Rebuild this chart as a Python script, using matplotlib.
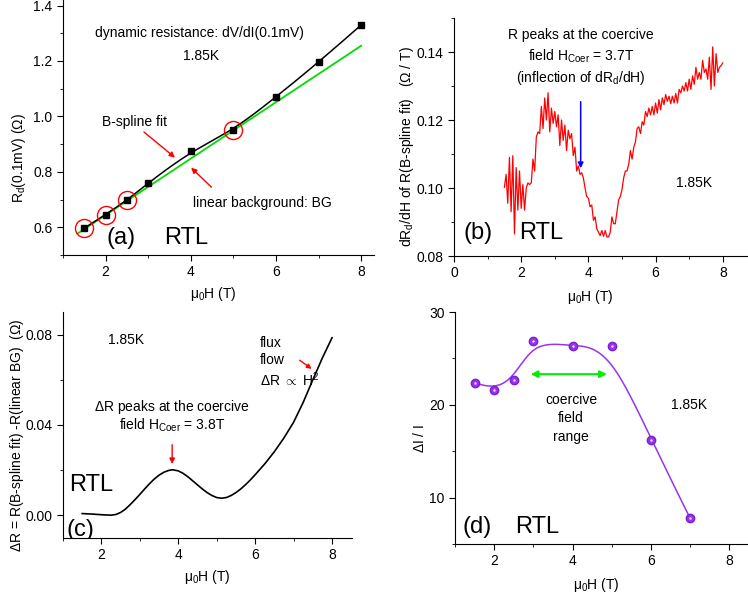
import numpy as np
import matplotlib
matplotlib.use("Agg")
import matplotlib.pyplot as plt
from matplotlib.ticker import MultipleLocator

plt.rcParams['font.family'] = ['Liberation Sans', 'DejaVu Sans']
plt.rcParams['mathtext.fontset'] = 'custom'
plt.rcParams['mathtext.rm'] = 'Liberation Sans'
plt.rcParams['mathtext.it'] = 'Liberation Sans'
plt.rcParams['mathtext.default'] = 'rm'

# ---------------- data ----------------
# (a) dynamic resistance
a_H = [1.5, 2.0, 2.5, 3.0, 4.0, 5.0, 6.0, 7.0, 8.0]
a_R = [0.597, 0.646, 0.697, 0.760, 0.874, 0.950, 1.070, 1.195, 1.330]
a_bg_points = [1.5, 2.0, 2.5, 5.0]            # circled points used for BG
bg_H = [1.35, 8.0]
bg_R = [0.578, 1.255]

# (b) dRd/dH (noisy)
b_dRdH = [
    0.1002, 0.1040, 0.0955, 0.1090, 0.0930, 0.1095, 0.0865, 0.1060, 0.0935, 0.1050,
    0.0940, 0.1010, 0.0935, 0.1000, 0.1015, 0.1010, 0.1015, 0.1085, 0.1050, 0.1150,
    0.1165, 0.1160, 0.1240, 0.1175, 0.1265, 0.1200, 0.1280, 0.1165, 0.1235, 0.1190,
    0.1225, 0.1180, 0.1215, 0.1125, 0.1200, 0.1140, 0.1185, 0.1110, 0.1170, 0.1145,
    0.1160, 0.1095, 0.1120, 0.1050, 0.1065, 0.1040, 0.1045, 0.1030, 0.1000, 0.0975,
    0.0970, 0.0945, 0.0950, 0.0905, 0.0915, 0.0880, 0.0870, 0.0860, 0.0875, 0.0858,
    0.0875, 0.0856, 0.0856, 0.0870, 0.0915, 0.0895, 0.0895, 0.0930, 0.0965, 0.0975,
    0.0995, 0.1030, 0.1050, 0.1050, 0.1070, 0.1110, 0.1085, 0.1120, 0.1135, 0.1175,
    0.1180, 0.1160, 0.1195, 0.1185, 0.1225, 0.1210, 0.1235, 0.1215, 0.1240, 0.1215,
    0.1250, 0.1220, 0.1260, 0.1230, 0.1265, 0.1245, 0.1275, 0.1255, 0.1270, 0.1248,
    0.1270, 0.1250, 0.1278, 0.1250, 0.1290, 0.1280, 0.1300, 0.1285, 0.1310, 0.1285,
    0.1320, 0.1290, 0.1330, 0.1305, 0.1355, 0.1320, 0.1340, 0.1320, 0.1375, 0.1340,
    0.1350, 0.1320, 0.1385, 0.1290, 0.1415, 0.1300, 0.1395, 0.1340, 0.1355, 0.1360,
    0.1368]
b_H = np.linspace(1.5, 8.0, len(b_dRdH))

# (c) Delta R
c_H = [1.5, 1.75, 2.0, 2.25, 2.375, 2.5, 2.625, 2.75, 2.875, 3.0, 3.125, 3.25, 3.375,
       3.5, 3.625, 3.75, 3.85, 4.0, 4.125, 4.25, 4.375, 4.5, 4.625, 4.75, 4.875, 5.0,
       5.125, 5.25, 5.375, 5.5, 5.625, 5.75, 5.875, 6.0, 6.25, 6.5, 6.75, 7.0, 7.25,
       7.5, 7.75, 8.0]
c_dR = [0.0008, 0.0006, 0.0003, 0.0001, 0.0004, 0.0013, 0.0028, 0.0048, 0.0070, 0.0093,
        0.0117, 0.0140, 0.0161, 0.0178, 0.0191, 0.0199, 0.0202, 0.0197, 0.0186, 0.0171,
        0.0153, 0.0135, 0.0117, 0.0101, 0.0088, 0.0079, 0.0076, 0.0079, 0.0088, 0.0101,
        0.0117, 0.0136, 0.0157, 0.0180, 0.0228, 0.0282, 0.0343, 0.0412, 0.0500, 0.0600,
        0.0697, 0.0786]

# (d) Delta I / I
d_H = [1.5, 2.0, 2.5, 3.0, 4.0, 5.0, 6.0, 7.0]
d_I = [22.4, 21.6, 22.7, 26.9, 26.3, 26.3, 16.2, 7.8]


def bspline(px, py, k=3, ns=400):
    """Clamped uniform B-spline with the data as control points (Origin style)."""
    P = np.column_stack([px, py]).astype(float)
    n = len(P)
    knots = np.concatenate([np.zeros(k + 1), np.arange(1, n - k), np.full(k + 1, n - k)]).astype(float)
    t = np.linspace(0, n - k, ns)
    t[-1] -= 1e-9

    def N(i, p):
        if p == 0:
            return ((knots[i] <= t) & (t < knots[i + 1])).astype(float)
        out = np.zeros_like(t)
        d1 = knots[i + p] - knots[i]
        d2 = knots[i + p + 1] - knots[i + 1]
        if d1 > 0:
            out += (t - knots[i]) / d1 * N(i, p - 1)
        if d2 > 0:
            out += (knots[i + p + 1] - t) / d2 * N(i + 1, p - 1)
        return out

    B = np.array([N(i, k) for i in range(n)])
    C = B.T @ P
    return C[:, 0], C[:, 1]


W, H = 748, 605
fig = plt.figure(figsize=(W / 100, H / 100), dpi=100)


def axes_px(l, t, r, b):
    return fig.add_axes([l / W, 1 - b / H, (r - l) / W, (b - t) / H])


def ftext(px, py, s, ha='center', va='center', **kw):
    return fig.text(px / W, 1 - py / H, s, ha=ha, va=va, **kw)


def style(ax):
    for s in ['top', 'right']:
        ax.spines[s].set_visible(False)
    ax.tick_params(which='both', direction='out', labelsize=10)
    ax.tick_params(which='major', length=4)
    ax.tick_params(which='minor', length=2.5)


FS = 10
BIG = 17

# ---------- (a) ----------
axa = axes_px(63, 0, 374, 255)
style(axa)
axa.set_xlim(1, 8.3)
axa.set_ylim(0.5, 1.42)
axa.xaxis.set_major_locator(MultipleLocator(2))
axa.xaxis.set_minor_locator(MultipleLocator(1))
axa.yaxis.set_major_locator(MultipleLocator(0.2))
axa.yaxis.set_minor_locator(MultipleLocator(0.1))
axa.yaxis.set_major_formatter(plt.FuncFormatter(lambda v, p: f"{v:.1f}"))
axa.plot(bg_H, bg_R, color='#00dd00', lw=1.3, zorder=2)
sx, sy = bspline(a_H, a_R)
axa.plot(sx, sy, color='black', lw=1.1, zorder=3)
axa.plot(a_H, a_R, 's', color='black', ms=5, zorder=4)
cx = [h for h in a_H if h in a_bg_points]
cy = [r for h, r in zip(a_H, a_R) if h in a_bg_points]
axa.plot(cx, cy, 'o', mfc='none', mec='red', ms=13, mew=1.0, zorder=5)
axa.annotate('', xy=(3.68, 0.845), xytext=(2.85, 0.95),
             arrowprops=dict(arrowstyle='-|>', color='red', lw=1, mutation_scale=8))
axa.annotate('', xy=(3.96, 0.822), xytext=(4.53, 0.738),
             arrowprops=dict(arrowstyle='-|>', color='red', lw=1, mutation_scale=8))
ftext(199, 33, 'dynamic resistance: dV/dI(0.1mV)', fontsize=FS)
ftext(201, 56, '1.85K', fontsize=FS)
ftext(134, 122, 'B-spline fit', fontsize=FS)
ftext(262, 203, 'linear background: BG', fontsize=FS)
ftext(121, 238, '(a)', fontsize=BIG)
ftext(186, 238, 'RTL', fontsize=BIG)
ftext(19, 158, r'R$_d$(0.1mV) ($\Omega$)', rotation=90, fontsize=FS)
ftext(213, 294, r'$\mu_0$H (T)', fontsize=FS)

# ---------- (b) ----------
axb = axes_px(454, 18, 748, 256)
style(axb)
axb.set_xlim(0, 8.75)
axb.set_ylim(0.08, 0.15)
axb.xaxis.set_major_locator(MultipleLocator(2))
axb.xaxis.set_minor_locator(MultipleLocator(1))
axb.yaxis.set_major_locator(MultipleLocator(0.02))
axb.yaxis.set_minor_locator(MultipleLocator(0.01))
axb.yaxis.set_major_formatter(plt.FuncFormatter(lambda v, p: f"{v:.2f}"))
axb.plot(b_H, b_dRdH, color='red', lw=0.9)
axb.annotate('', xy=(3.77, 0.1050), xytext=(3.77, 0.1262),
             arrowprops=dict(arrowstyle='-|>', color='blue', lw=1.1, mutation_scale=8))
ftext(581, 35, 'R peaks at the coercive', fontsize=FS)
ftext(581, 56, r'field H$_{Coer}$ = 3.7T', fontsize=FS)
ftext(581, 78, r'(inflection of dR$_d$/dH)', fontsize=FS)
ftext(694, 183, '1.85K', fontsize=FS)
ftext(478, 233, '(b)', fontsize=BIG)
ftext(541, 233, 'RTL', fontsize=BIG)
ftext(407, 147, r'dR$_d$/dH of R(B-spline fit)   ($\Omega$ / T)', rotation=90, fontsize=FS)
ftext(590, 297, r'$\mu_0$H (T)', fontsize=FS)

# ---------- (c) ----------
axc = axes_px(63, 312, 352, 538)
style(axc)
axc.set_xlim(1, 8.52)
axc.set_ylim(-0.01, 0.09)
axc.xaxis.set_major_locator(MultipleLocator(2))
axc.xaxis.set_minor_locator(MultipleLocator(1))
axc.yaxis.set_major_locator(MultipleLocator(0.04))
axc.yaxis.set_minor_locator(MultipleLocator(0.02))
axc.yaxis.set_major_formatter(plt.FuncFormatter(lambda v, p: f"{v:.2f}"))
axc.plot(c_H, c_dR, color='black', lw=1.2)
axc.annotate('', xy=(7.53, 0.0641), xytext=(7.10, 0.0694),
             arrowprops=dict(arrowstyle='-|>', color='red', lw=1, mutation_scale=7))
axc.annotate('', xy=(3.84, 0.0215), xytext=(3.84, 0.0325),
             arrowprops=dict(arrowstyle='-|>', color='red', lw=1, mutation_scale=8))
ftext(126, 340, '1.85K', fontsize=FS)
ftext(260, 343, 'flux', ha='left', fontsize=FS)
ftext(260, 360, 'flow', ha='left', fontsize=FS)
ftext(260, 380, r'$\Delta$R $\propto$ H$^2$', ha='left', fontsize=FS)
ftext(172, 407, r'$\Delta$R peaks at the coercive', fontsize=FS)
ftext(172, 425, r'field H$_{Coer}$ = 3.8T', fontsize=FS)
ftext(91, 485, 'RTL', fontsize=BIG)
tc = ftext(80, 530, '(c)', fontsize=BIG)
tc.set_clip_box(axc.bbox)
tc.set_clip_on(True)
ftext(17, 435, r'$\Delta$R = R(B-spline fit) -R(linear BG)  ($\Omega$)', rotation=90, fontsize=FS)
ftext(207, 577, r'$\mu_0$H (T)', fontsize=FS)

# ---------- (d) ----------
axd = axes_px(455, 312, 748, 544)
style(axd)
axd.set_xlim(1, 8.48)
axd.set_ylim(5, 30)
axd.xaxis.set_major_locator(MultipleLocator(2))
axd.xaxis.set_minor_locator(MultipleLocator(1))
axd.yaxis.set_major_locator(MultipleLocator(10))
axd.yaxis.set_minor_locator(MultipleLocator(5))
dx, dy = bspline(d_H, d_I)
purple = '#9933ee'
axd.plot(dx, dy, color=purple, lw=1.1)
axd.plot(d_H, d_I, 'o', color=purple, mec='#7a1fd0', ms=6)
axd.plot(d_H, d_I, 'o', color='#e8d8ff', ms=1.8, markeredgewidth=0)
axd.annotate('', xy=(4.95, 23.3), xytext=(2.86, 23.3),
             arrowprops=dict(arrowstyle='<|-|>', color='#00ee00', lw=1.5, mutation_scale=10))
ftext(571, 400, 'coercive', fontsize=FS)
ftext(571, 418, 'field', fontsize=FS)
ftext(571, 437, 'range', fontsize=FS)
ftext(689, 405, '1.85K', fontsize=FS)
ftext(477, 527, '(d)', fontsize=BIG)
ftext(537, 527, 'RTL', fontsize=BIG)
ftext(419, 438, r'$\Delta$I / I', rotation=90, fontsize=FS)
ftext(596, 585, r'$\mu_0$H (T)', fontsize=FS)

fig.savefig('out.png', dpi=100)
